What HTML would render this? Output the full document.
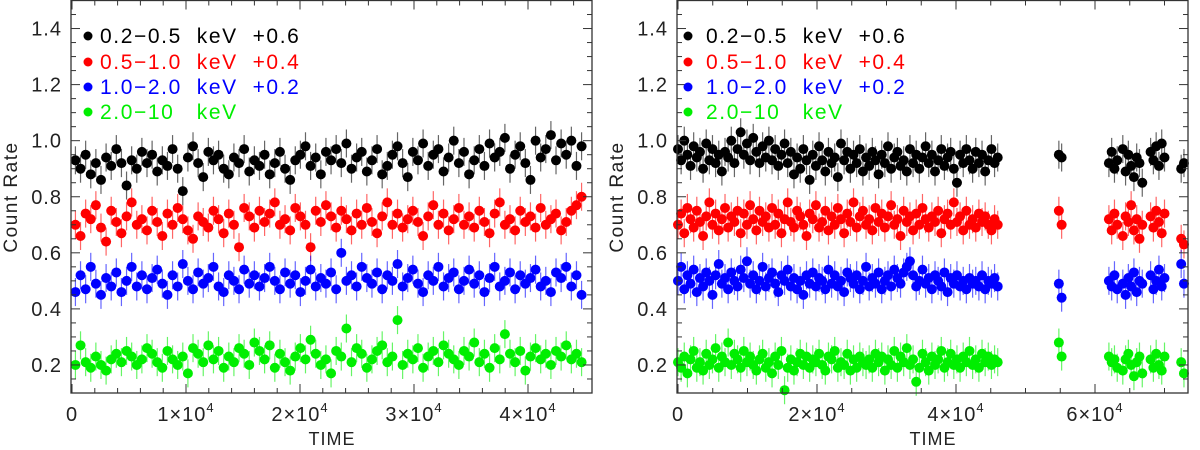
<!DOCTYPE html>
<html><head><meta charset="utf-8"><style>
html,body{margin:0;padding:0;background:#fff;}
svg{display:block;font-family:"Liberation Sans","DejaVu Sans",sans-serif;}
</style></head><body>
<svg id="chart" width="1200" height="450" viewBox="0 0 1200 450"></svg>
<script>
// ---- data ----
const labels = ["0.2\u22120.5  keV  +0.6","0.5\u22121.0  keV  +0.4","1.0\u22122.0  keV  +0.2","2.0\u221210   keV"];
const colors = ["#000000","#ff0000","#0000ff","#00ee00"];
const yTicks = [0.2,0.4,0.6,0.8,1.0,1.2,1.4];
const leftXTicks = [0,1,2,3,4];
const rightXTicks = [0,2,4,6];
const leftSpan = 45000;
const rightDenseSpan = 46000;
const rightSparseTimes = [54800,55200,62000,62400,62800,63200,64000,64400,64800,65200,65600,66000,66400,66800,68000,68400,68800,69200,69600,70000,72400,72800];

const leftBlack = [.93,.90,.95,.88,.92,.86,.94,.91,.97,.92,.84,.93,.90,.96,.92,.95,.89,.93,.91,.97,.90,.82,.94,.98,.92,.87,.96,.93,.95,.90,.88,.94,.92,.97,.89,.93,.91,.95,.88,.92,.96,.90,.86,.93,.95,.98,.91,.94,.88,.96,.93,.97,.92,.99,.90,.94,.96,.89,.93,.97,.88,.91,.95,.98,.92,.87,.96,.93,.99,.91,.95,.97,.89,.94,1.0,.92,.96,.88,.93,.97,.91,.99,.94,.96,1.01,.90,.95,.98,.92,.86,1.0,.94,.97,1.02,.93,.99,.95,1.0,.91,.98];
const leftRed = [.70,.66,.74,.72,.77,.69,.64,.75,.71,.67,.73,.78,.70,.72,.68,.75,.71,.66,.74,.70,.76,.72,.68,.65,.73,.71,.69,.75,.72,.67,.74,.70,.62,.76,.73,.69,.75,.71,.74,.78,.70,.72,.68,.76,.73,.70,.62,.75,.71,.77,.73,.69,.75,.72,.68,.74,.70,.76,.71,.67,.73,.78,.70,.74,.69,.72,.75,.71,.66,.73,.77,.70,.74,.68,.72,.76,.70,.73,.69,.75,.71,.67,.74,.78,.70,.72,.68,.75,.71,.73,.69,.76,.70,.72,.74,.68,.71,.75,.77,.80];
const leftBlue = [.46,.52,.47,.55,.49,.45,.51,.48,.53,.46,.50,.55,.48,.52,.47,.51,.54,.49,.45,.52,.48,.56,.50,.47,.53,.49,.51,.55,.48,.46,.52,.50,.47,.54,.49,.52,.48,.51,.55,.50,.47,.53,.49,.52,.46,.50,.54,.48,.51,.49,.53,.47,.60,.50,.52,.48,.55,.51,.49,.53,.47,.52,.50,.56,.48,.51,.54,.49,.46,.52,.50,.55,.48,.51,.53,.47,.50,.54,.49,.52,.46,.51,.55,.48,.50,.53,.47,.52,.49,.51,.54,.48,.50,.46,.53,.51,.55,.48,.52,.45];
const leftGreen = [.20,.27,.21,.19,.23,.20,.18,.22,.24,.21,.25,.23,.20,.22,.26,.24,.21,.19,.25,.22,.20,.23,.17,.26,.24,.21,.27,.22,.25,.19,.23,.21,.26,.24,.20,.28,.25,.22,.27,.19,.24,.21,.18,.23,.26,.22,.29,.24,.20,.22,.17,.25,.23,.33,.21,.26,.24,.19,.22,.25,.27,.21,.23,.36,.20,.24,.22,.26,.19,.23,.25,.21,.27,.24,.22,.20,.25,.23,.28,.21,.24,.19,.26,.22,.31,.24,.21,.25,.18,.23,.26,.22,.24,.20,.25,.23,.27,.22,.24,.21];

const rightBlackDense = [.97,.93,1.0,.95,.91,.98,.94,.96,.90,.99,.93,.97,.92,.95,.89,.96,.94,1.0,.92,.97,1.03,.95,.99,.93,1.01,.96,.92,.98,.94,1.0,.93,.97,.91,.95,.99,.92,.96,.88,.94,.90,.97,.93,.86,.95,.91,.98,.93,.89,.96,.92,.94,.87,.99,.93,.96,.90,.95,.92,.97,.89,.94,.91,.96,.93,.88,.95,.92,.98,.90,.94,.96,.91,.93,.89,.97,.92,.95,.90,.94,.98,.92,.95,.89,.93,.97,.91,.94,.96,.90,.85,.95,.92,.97,.93,.90,.96,.92,.95,.89,.93,.97,.92,.94];
const rightBlackSparse = [.95,.94,.92,.96,.90,.93,.97,.89,.95,.91,.87,.94,.92,.85,.96,.93,.98,.91,.99,.94,.90,.92];
const rightRedDense = [.70,.74,.67,.76,.72,.69,.75,.71,.66,.73,.78,.70,.74,.68,.72,.76,.69,.73,.71,.75,.67,.74,.70,.77,.72,.68,.75,.71,.73,.69,.76,.70,.74,.67,.72,.78,.71,.69,.75,.73,.70,.66,.74,.72,.77,.69,.71,.75,.68,.73,.70,.76,.72,.67,.74,.71,.78,.69,.73,.75,.70,.72,.68,.76,.71,.74,.69,.73,.77,.70,.72,.66,.75,.71,.73,.68,.74,.70,.76,.72,.69,.73,.71,.75,.67,.72,.74,.70,.78,.71,.73,.68,.75,.70,.72,.69,.74,.71,.73,.70,.68,.72,.70];
const rightRedSparse = [.75,.70,.72,.68,.74,.70,.66,.73,.71,.77,.68,.72,.65,.70,.73,.69,.75,.71,.67,.74,.65,.63];
const rightBlueDense = [.50,.55,.47,.52,.49,.54,.46,.51,.48,.53,.50,.45,.52,.56,.49,.51,.47,.53,.50,.48,.54,.51,.57,.49,.52,.47,.50,.55,.48,.51,.53,.49,.46,.52,.50,.54,.48,.51,.47,.50,.45,.52,.49,.53,.48,.51,.50,.47,.54,.49,.52,.48,.50,.46,.53,.51,.49,.52,.47,.50,.55,.48,.51,.49,.53,.47,.50,.52,.48,.54,.51,.49,.53,.55,.57,.52,.48,.50,.54,.49,.51,.47,.52,.50,.48,.53,.46,.51,.49,.52,.48,.50,.47,.51,.49,.50,.48,.52,.47,.50,.49,.51,.48];
const rightBlueSparse = [.49,.44,.50,.48,.52,.47,.49,.45,.51,.48,.53,.46,.50,.49,.52,.47,.50,.54,.48,.51,.56,.49];
const rightGreenDense = [.21,.19,.23,.17,.22,.25,.19,.21,.18,.24,.20,.22,.26,.19,.23,.21,.28,.20,.24,.22,.19,.25,.21,.23,.20,.18,.22,.24,.19,.21,.17,.23,.20,.25,.11,.19,.22,.18,.21,.24,.20,.23,.19,.22,.21,.24,.20,.18,.23,.22,.25,.19,.21,.20,.24,.18,.22,.19,.23,.21,.20,.22,.19,.24,.21,.23,.18,.22,.20,.25,.19,.23,.21,.26,.20,.22,.14,.19,.24,.21,.18,.23,.20,.22,.25,.19,.21,.24,.20,.22,.19,.23,.21,.25,.20,.22,.19,.24,.21,.23,.20,.22,.21];
const rightGreenSparse = [.28,.23,.23,.21,.22,.19,.18,.22,.24,.20,.16,.21,.23,.17,.22,.19,.24,.20,.18,.23,.21,.17];
const errHalf = 0.05;

// ---- drawing ----
const NS = "http://www.w3.org/2000/svg";
const svg = document.getElementById("chart");
function mk(tag, attrs, parent){
  const e = document.createElementNS(NS, tag);
  for (const k in attrs) e.setAttribute(k, attrs[k]);
  (parent||svg).appendChild(e);
  return e;
}
const yTop = 0.5, yBot = 393;
function yScale(v){ return yBot - (v - 0.1) * (yBot - yTop) / 1.4; }

function panel(p){
  const g = mk("g", {});
  
  
  const xs = t => p.x0 + (t / 10000) * p.pxPer1e4;
  p.series.forEach((s, si) => {
    const sg = mk("g", {}, g);
    
    
    s.vals.forEach((v, i) => {
      const x = xs(s.times[i]);
      const l = mk("line", {x1:x, x2:x, y1:yScale(v+errHalf), y2:yScale(v-errHalf), stroke:colors[si], "stroke-width":1.2, "stroke-opacity":0.6}, sg);
      
      
      const c = mk("circle", {cx:x, cy:yScale(v), r:5, fill:colors[si]}, sg);
      
      
    });
  });
  const fr = mk("rect", {x:p.x0-1, y:yTop, width:p.x1-p.x0+1, height:yBot-yTop, fill:"none", stroke:"#333", "stroke-width":1.3}, g);
  
  
  for (let v = 0.1; v <= 1.5001; v += 0.05){
    const r = Math.round(v*100);
    const major = r % 20 === 0;
    const len = major ? 9 : 5;
    const y = yScale(v);
    mk("line", {x1:p.x0-1, x2:p.x0-1+len, y1:y, y2:y, stroke:"#333", "stroke-width":1}, g);
    mk("line", {x1:p.x1, x2:p.x1-len, y1:y, y2:y, stroke:"#333", "stroke-width":1}, g);
  }
  yTicks.forEach(v => {
    const t = mk("text", {x:p.x0-10, y:yScale(v)+7, "text-anchor":"end", "font-size":20, "letter-spacing":1, fill:"#222"}, g);
    t.textContent = v.toFixed(1);
    
    
  });
  for (let t = 0; xs(t) <= p.x1; t += p.minorStep){
    const major = (t % p.majorStep) === 0;
    const len = major ? 9 : 5;
    const x = xs(t);
    mk("line", {x1:x, x2:x, y1:yBot, y2:yBot-len, stroke:"#333", "stroke-width":1}, g);
    mk("line", {x1:x, x2:x, y1:yTop, y2:yTop+len, stroke:"#333", "stroke-width":1}, g);
  }
  p.xTicks.forEach(k => {
    const x = xs(k * 10000);
    const t = mk("text", {x:x, y:421, "text-anchor":"middle", "font-size":20, "letter-spacing":1, fill:"#222"}, g);
    
    
    if (k === 0) t.textContent = "0";
    else {
      t.textContent = k + "\u00d710";
      const sup = mk("tspan", {dy:-9, "font-size":13}, t);
      sup.textContent = "4";
    }
  });
  const xt = mk("text", {x:(p.x0+p.x1)/2, y:445, "text-anchor":"middle", "font-size":18, "letter-spacing":1, fill:"#222"}, g);
  xt.textContent = "TIME";
  
  
  const ax = p.x0 - 55;
  const yt = mk("text", {x:ax, y:197, "text-anchor":"middle", "font-size":19, "letter-spacing":1.5, fill:"#222", transform:"rotate(-90 "+ax+" 197)"}, g);
  yt.textContent = "Count Rate";
  
  
  const ly = [36, 62, 87, 112];
  labels.forEach((lab, i) => {
    const lg = mk("g", {}, g);
    
    
    mk("circle", {cx:p.legDot, cy:ly[i], r:4.5, fill:colors[i]}, lg);
    const t = mk("text", {x:p.legText, y:ly[i]+7, "font-size":21, "letter-spacing":1.6, fill:colors[i]}, lg);
    t.style.whiteSpace = "pre";
    t.textContent = lab;
  });
}

function denseTimes(n, span){ const a=[]; for(let i=0;i<n;i++) a.push(i*span/(n-1)); return a; }
function leftTimes(n){ const a=[]; for(let i=0;i<n;i++) a.push(300 + i*(leftSpan-600)/(n-1)); return a; }

panel({
  name:"left-panel", x0:72, x1:592, pxPer1e4:114, minorStep:2000, majorStep:10000, xTicks:leftXTicks, legDot:88, legText:100,
  series:[leftBlack,leftRed,leftBlue,leftGreen].map(v => ({vals:v, times:leftTimes(v.length)}))
});
panel({
  name:"right-panel", x0:678, x1:1188, pxPer1e4:69.5, minorStep:5000, majorStep:20000, xTicks:rightXTicks, legDot:688, legText:706,
  series:[[rightBlackDense,rightBlackSparse],[rightRedDense,rightRedSparse],[rightBlueDense,rightBlueSparse],[rightGreenDense,rightGreenSparse]].map(([d,s]) => ({
    vals:d.concat(s), times:denseTimes(d.length, rightDenseSpan).concat(rightSparseTimes.slice(0, s.length))
  }))
});
</script>
</body></html>
